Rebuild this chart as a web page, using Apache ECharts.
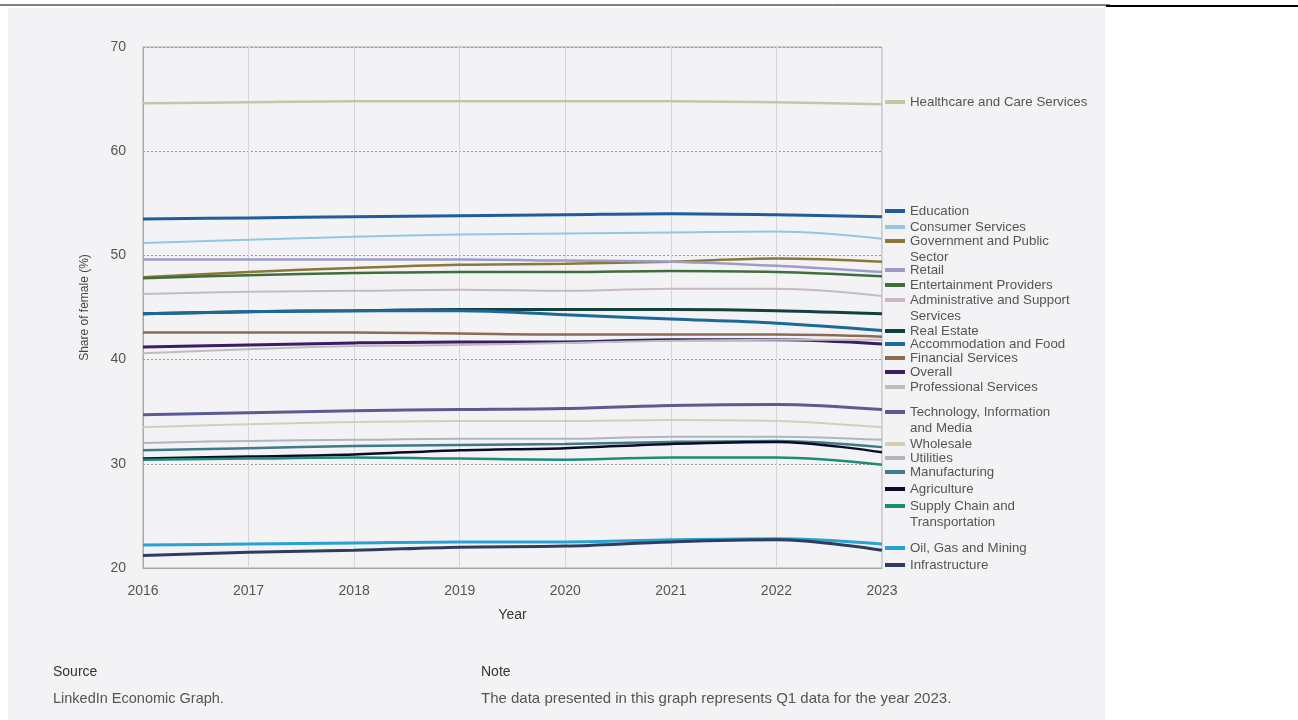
<!DOCTYPE html>
<html>
<head>
<meta charset="utf-8">
<script src="https://cdn.jsdelivr.net/npm/echarts@6/dist/echarts.min.js"></script>
<style>
html,body{margin:0;padding:0;background:#fff;}
#c{width:1298px;height:720px;}
</style>
</head>
<body>
<div id="c"></div>
<script>
const years = ['2016','2017','2018','2019','2020','2021','2022','2023'];
const yTicks = [20, 30, 40, 50, 60, 70];

const healthcare     = [64.6, 64.7, 64.8, 64.8, 64.8, 64.8, 64.7, 64.5];
const education      = [53.5, 53.6, 53.7, 53.8, 53.9, 54.0, 53.9, 53.7];
const consumer       = [51.2, 51.5, 51.8, 52.0, 52.1, 52.2, 52.3, 51.6];
const government     = [47.9, 48.4, 48.8, 49.1, 49.2, 49.4, 49.7, 49.4];
const retail         = [49.6, 49.6, 49.6, 49.6, 49.5, 49.4, 49.0, 48.4];
const entertainment  = [47.8, 48.1, 48.3, 48.4, 48.4, 48.5, 48.4, 48.0];
const administrative = [46.3, 46.5, 46.6, 46.7, 46.6, 46.8, 46.8, 46.1];
const realEstate     = [44.4, 44.6, 44.7, 44.8, 44.8, 44.8, 44.7, 44.4];
const accommodation  = [44.4, 44.6, 44.7, 44.7, 44.3, 43.9, 43.5, 42.8];
const financial      = [42.6, 42.6, 42.6, 42.5, 42.4, 42.4, 42.4, 42.2];
const overall        = [41.2, 41.4, 41.6, 41.7, 41.7, 41.9, 41.9, 41.5];
const professional   = [40.6, 41.0, 41.3, 41.4, 41.6, 41.8, 41.9, 41.9];
const technology     = [34.7, 34.9, 35.1, 35.2, 35.3, 35.6, 35.7, 35.2];
const wholesale      = [33.5, 33.8, 34.0, 34.1, 34.1, 34.2, 34.1, 33.5];
const utilities      = [32.0, 32.2, 32.3, 32.4, 32.4, 32.6, 32.6, 32.3];
const manufacturing  = [31.3, 31.5, 31.7, 31.8, 31.9, 32.1, 32.2, 31.6];
const agriculture    = [30.5, 30.7, 30.9, 31.3, 31.5, 31.9, 32.1, 31.1];
const supplyChain    = [30.4, 30.5, 30.6, 30.5, 30.4, 30.6, 30.6, 29.9];
const oilGas         = [22.2, 22.3, 22.4, 22.5, 22.5, 22.7, 22.8, 22.3];
const infrastructure = [21.2, 21.5, 21.7, 22.0, 22.1, 22.5, 22.7, 21.7];

const seriesNames = [
  'Healthcare and Care Services','Education','Consumer Services','Government and Public Sector',
  'Retail','Entertainment Providers','Administrative and Support Services','Real Estate',
  'Accommodation and Food','Financial Services','Overall','Professional Services',
  'Technology, Information and Media','Wholesale','Utilities','Manufacturing','Agriculture',
  'Supply Chain and Transportation','Oil, Gas and Mining','Infrastructure'
];
const seriesData = [healthcare, education, consumer, government, retail, entertainment,
  administrative, realEstate, accommodation, financial, overall, professional, technology,
  wholesale, utilities, manufacturing, agriculture, supplyChain, oilGas, infrastructure];
const legendFirstLine = [
  'Healthcare and Care Services','Education','Consumer Services','Government and Public',
  'Retail','Entertainment Providers','Administrative and Support','Real Estate',
  'Accommodation and Food','Financial Services','Overall','Professional Services',
  'Technology, Information','Wholesale','Utilities','Manufacturing','Agriculture',
  'Supply Chain and','Oil, Gas and Mining','Infrastructure'
];
const legendSecondLine = ['', '', '', 'Sector', '', '', 'Services', '', '', '', '', '',
  'and Media', '', '', '', '', 'Transportation', '', ''];

const colors = ['#c8c5a6','#1f5c9c','#93c6e2','#8a7838','#9c9cc8','#3f6e3c','#c9b9c2','#12403f',
  '#1c6898','#8c6a55','#3a1c68','#bdbdbd','#5b5b92','#d5d0b5','#aeb6bf','#3f7a88','#0c0c28',
  '#1e8a78','#28a2d4','#2e3d5f'];
const widths = [2.5,3,2,2.5,2.5,2.5,2,3,3,2.5,3,2,3,2,2,2.5,2.5,2.5,3,3];
const legendY = [102,211,227,241,270,285,300,331,344,358,372,387,412,444,458,472,489,506,548,565];

const chart = echarts.init(document.getElementById('c'), null, {renderer:'canvas'});
const font = 'Liberation Sans, Arial, sans-serif';
const legendFont = 13.3;

const series = seriesNames.map((n,i)=>({
  name:n, type:'line', data:seriesData[i], smooth:0.35, showSymbol:false, symbol:'none',
  lineStyle:{color:colors[i], width:widths[i]}, itemStyle:{color:colors[i]}, z:3
}));

const legends = seriesNames.map((n,i)=>({
  data:[{name:n, icon:'rect'}], left:885, top:legendY[i]-8, orient:'vertical',
  itemWidth:20, itemHeight:4, itemGap:0, padding:0, selectedMode:false,
  formatter:()=>legendFirstLine[i],
  textStyle:{fontFamily:font, fontSize:legendFont, color:'#555', lineHeight:16}
}));

const titles = [
  {text:'Source', left:53, top:665, padding:0, textStyle:{fontFamily:font,fontSize:14,fontWeight:'normal',color:'#333'}},
  {text:'LinkedIn Economic Graph.', left:53, top:691, padding:0, textStyle:{fontFamily:font,fontSize:14.5,fontWeight:'normal',color:'#555'}},
  {text:'Note', left:481, top:665, padding:0, textStyle:{fontFamily:font,fontSize:14,fontWeight:'normal',color:'#333'}},
  {text:'The data presented in this graph represents Q1 data for the year 2023.', left:481, top:691, padding:0, textStyle:{fontFamily:font,fontSize:15,fontWeight:'normal',color:'#555'}}
];
legendSecondLine.forEach((t,i)=>{
  if(t){ titles.push({text:t, left:910, top:legendY[i]+16-8, padding:0,
    textStyle:{fontFamily:font,fontSize:legendFont,fontWeight:'normal',color:'#555',lineHeight:16}}); }
});

chart.setOption({
  backgroundColor:'#ffffff',
  animation:false,
  graphic:[
    {type:'rect', shape:{x:8,y:8,width:1097,height:712}, style:{fill:'#f3f3f5'}, z:-10, silent:true},
    {type:'line', shape:{x1:0,y1:5,x2:1110,y2:5}, style:{stroke:'#000',lineWidth:1}, silent:true},
    {type:'line', shape:{x1:1106,y1:6,x2:1298,y2:6}, style:{stroke:'#000',lineWidth:2}, silent:true}
  ],
  title:titles,
  legend:legends,
  grid:{left:143, right:416, top:47, bottom:152, show:true, borderColor:'#a8a8a8', borderWidth:1, backgroundColor:'transparent'},
  xAxis:{
    type:'category', data:years, boundaryGap:false,
    name:'Year', nameLocation:'middle', nameGap:40,
    nameTextStyle:{fontFamily:font,fontSize:14,color:'#333'},
    axisLine:{show:true,lineStyle:{color:'#a8a8a8',width:1}}, axisTick:{show:false},
    axisLabel:{fontFamily:font,fontSize:14,color:'#555',margin:16},
    splitLine:{show:true,lineStyle:{color:'#d6d6d8',width:1}}
  },
  yAxis:{
    type:'value', min:yTicks[0], max:yTicks[yTicks.length-1], interval:10,
    name:'Share of female (%)', nameLocation:'middle', nameGap:52,
    nameTextStyle:{fontFamily:font,fontSize:12,color:'#444'},
    axisLine:{show:true,lineStyle:{color:'#a8a8a8',width:1}}, axisTick:{show:false},
    axisLabel:{fontFamily:font,fontSize:14,color:'#555',margin:17},
    splitLine:{show:true,lineStyle:{color:'#9a9a9a',width:1,type:[2,2]}}
  },
  series:series
});
</script>
</body>
</html>
